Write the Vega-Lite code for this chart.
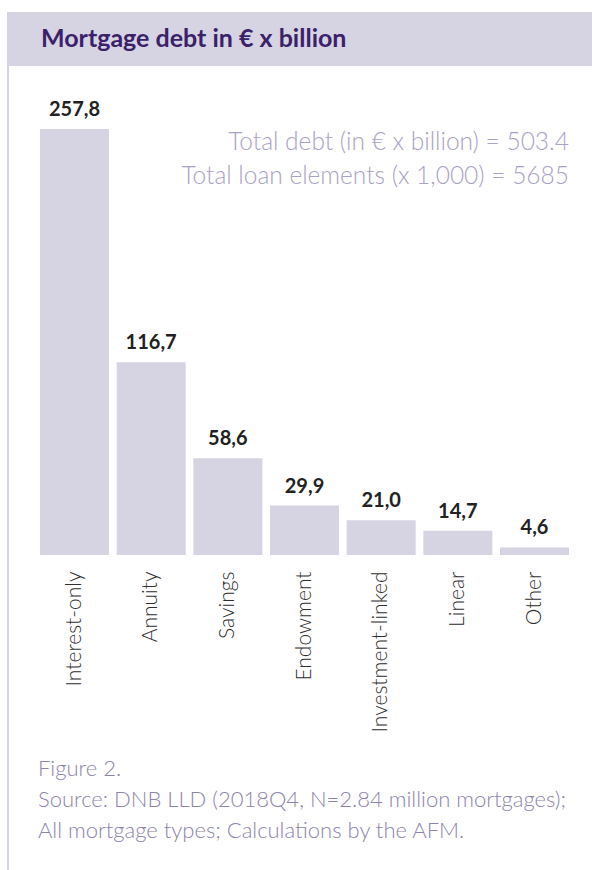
{
  "$schema": "https://vega.github.io/schema/vega-lite/v6.json",
  "padding": {"left": 7, "top": 12, "right": 0, "bottom": 0},
  "background": "white",
  "config": {
    "view": {"stroke": null},
    "font": "Lato",
    "locale": {"number": {"decimal": ",", "thousands": ".", "grouping": [3], "currency": ["€", ""]}}
  },
  "spacing": 0,
  "hconcat": [
    {
      "width": 2,
      "height": 858,
      "view": {"fill": "#d6d3e3", "stroke": null},
      "data": {"values": [{}]},
      "mark": {"type": "text", "text": ""},
      "encoding": {}
    },
    {
      "spacing": 0,
      "title": {
        "text": ["Figure 2.", "Source: DNB LLD (2018Q4, N=2.84 million mortgages);", "All mortgage types; Calculations by the AFM."],
        "orient": "bottom",
        "anchor": "start",
        "baseline": "alphabetic",
        "dx": 29,
        "offset": 44,
        "lineHeight": 31,
        "fontSize": 22,
        "fontWeight": 300,
        "font": "Lato",
        "color": "#8c84ad"
      },
      "vconcat": [
        {
          "width": 583,
          "height": 54,
          "view": {"fill": "#d6d3e3", "stroke": null},
          "title": {
            "text": "Mortgage debt in € x billion",
            "orient": "top",
            "anchor": "start",
            "frame": "group",
            "baseline": "alphabetic",
            "dx": 32,
            "offset": -60,
            "fontSize": 25,
            "fontWeight": "bold",
            "font": "Lato",
            "color": "#3b2169"
          },
          "data": {"values": [{}]},
          "mark": {"type": "text", "text": ""},
          "encoding": {}
        },
        {
          "width": 560,
          "height": 489,
          "title": {
            "text": ["Total debt (in € x billion) = 503.4", "Total loan elements (x 1,000) = 5685"],
            "orient": "top",
            "anchor": "end",
            "frame": "group",
            "baseline": "alphabetic",
            "offset": -142,
            "lineHeight": 34,
            "fontSize": 24.5,
            "fontWeight": 300,
            "font": "Lato",
            "color": "#a9a2c5"
          },
          "data": {
            "values": [
              {"type": "Interest-only", "debt": 257.8},
              {"type": "Annuity", "debt": 116.7},
              {"type": "Savings", "debt": 58.6},
              {"type": "Endowment", "debt": 29.9},
              {"type": "Investment-linked", "debt": 21.0},
              {"type": "Linear", "debt": 14.7},
              {"type": "Other", "debt": 4.6}
            ]
          },
          "encoding": {
            "x": {
              "field": "type",
              "type": "nominal",
              "sort": null,
              "scale": {"paddingInner": 0.1, "paddingOuter": 0.2022, "align": 1},
              "axis": {
                "title": null,
                "domain": false,
                "ticks": false,
                "grid": false,
                "labelAngle": -90,
                "labelPadding": 16,
                "labelFontSize": 21,
                "labelFont": "Lato",
                "labelFontWeight": 300,
                "labelColor": "#2e2e2e",
                "labelLimit": 400
              }
            },
            "y": {
              "field": "debt",
              "type": "quantitative",
              "scale": {"domain": [0, 295.9], "nice": false, "zero": true},
              "axis": null
            }
          },
          "layer": [
            {"mark": {"type": "bar", "color": "#d6d3e3"}},
            {
              "mark": {"type": "text", "baseline": "alphabetic", "dy": -13, "fontSize": 20, "fontWeight": "bold", "font": "Lato", "color": "#222222"},
              "encoding": {"text": {"field": "debt", "type": "quantitative", "format": ".1f"}}
            }
          ]
        }
      ]
    }
  ]
}
